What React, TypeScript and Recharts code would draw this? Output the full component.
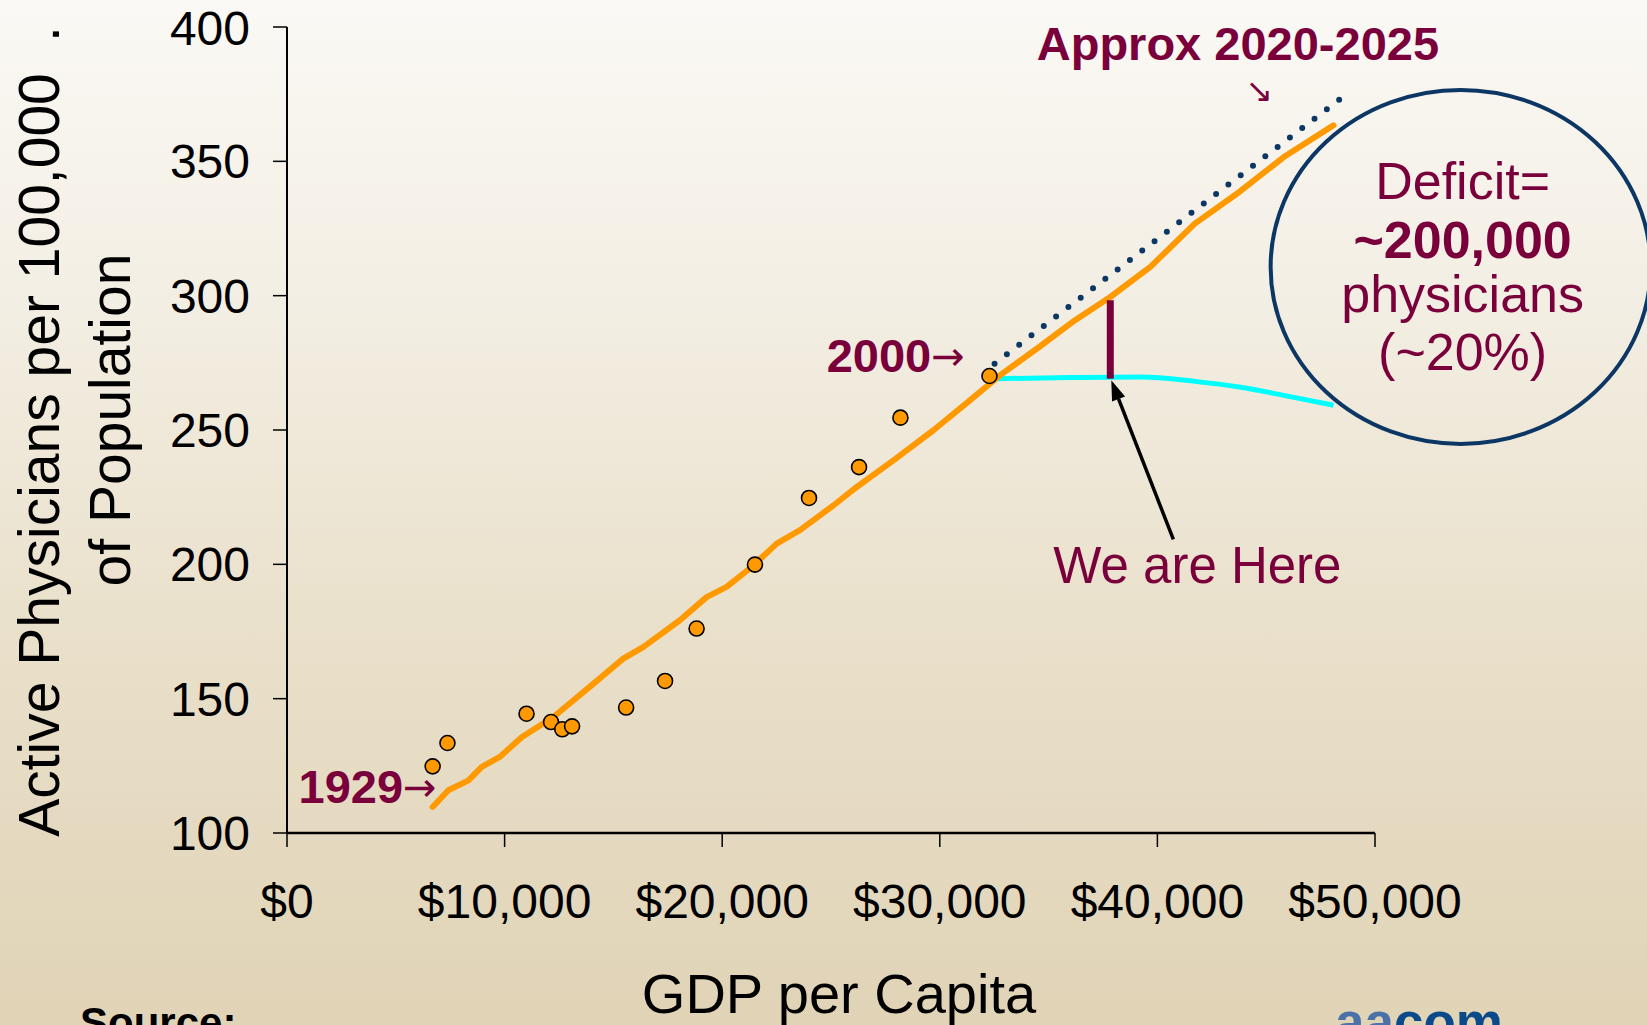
import { ComposedChart, Line, Scatter, XAxis, YAxis, ReferenceLine, ReferenceDot, Label } from 'recharts';

// observed points, 1929 -> 2000
const observedGdp = [6693, 7374, 11008, 12135, 12650, 13101, 15585, 17374, 18823, 21505, 23989, 26289, 28190, 32283];
const observedRate = [124.8, 133.5, 144.4, 141.3, 138.6, 139.7, 146.7, 156.6, 176.1, 199.9, 224.7, 236.2, 254.6, 270.1];

// hand drawn trend (demand)
const trendGdp = [6693, 7415, 8339, 8951, 9775, 10800, 12240, 14089, 15450, 16367, 18055, 19283, 20203, 21352, 22503, 23575, 25107, 26183, 27869, 29707, 31395, 32315, 32775, 34564, 36198, 37835, 39675, 41719, 43764, 45807, 48093];
const trendRate = [109.7, 115.9, 119.6, 124.6, 128.3, 135.7, 143.2, 155.6, 164.9, 169.2, 179.2, 187.8, 191.6, 199.0, 207.7, 212.7, 221.9, 228.8, 238.7, 249.9, 261.1, 267.3, 270.4, 280.9, 290.8, 299.5, 310.7, 326.8, 338.6, 351.6, 363.4];

// dotted projection
const projGdp = [32517, 48415];
const projRate = [274.7, 373.3];

// supply (cyan)
const supplyGdp = [32514, 36000, 39261, 41719, 43764, 45807, 48093];
const supplyRate = [269.1, 269.5, 269.7, 268.1, 266.0, 262.9, 259.2];

const xTicks = [0, 10000, 20000, 30000, 40000, 50000];
const yTicks = [100, 150, 200, 250, 300, 350, 400];

const toPoints = (xs: number[], ys: number[]) => xs.map((x, i) => ({ x, y: ys[i] }));
const observed = toPoints(observedGdp, observedRate);
const trend = toPoints(trendGdp, trendRate);
const projection = toPoints(projGdp, projRate);
const supply = toPoints(supplyGdp, supplyRate);

const FONT = '"Liberation Sans", Arial, Helvetica, sans-serif';
const ARROW_FONT = '"DejaVu Sans", sans-serif';
const MAROON = '#7a003c';
const NAVY = '#0c3764';

const fmtMoney = (v: number) => '$' + v.toLocaleString('en-US');

const Marker = (p: any) => (
  <circle cx={p.cx} cy={p.cy} r={7.5} fill="#ff9900" stroke="#000" strokeWidth={1.6} />
);

const ArrowShape = (p: any) => {
  const { x1, y1, x2, y2 } = p;
  const a = Math.atan2(y2 - y1, x2 - x1);
  const len = 20;
  const half = 7;
  const bx = x2 - len * Math.cos(a);
  const by = y2 - len * Math.sin(a);
  const nx = -Math.sin(a) * half;
  const ny = Math.cos(a) * half;
  return (
    <g>
      <line x1={x1} y1={y1} x2={bx} y2={by} stroke="#000" strokeWidth={3.5} />
      <polygon points={`${x2},${y2} ${bx + nx},${by + ny} ${bx - nx},${by - ny}`} fill="#000" />
    </g>
  );
};

const textAt = (label: string, opts: any) => (p: any) => (
  <text x={p.cx} y={p.cy} fontFamily={opts.family || FONT} fontSize={opts.size} fontWeight={opts.weight || 'normal'}
    fill={opts.fill || MAROON} textAnchor={opts.anchor || 'start'} dominantBaseline={opts.baseline || 'auto'}>
    {label}
    {opts.arrow ? <tspan fontFamily={ARROW_FONT} fontWeight="normal" fontSize={40} dy={-2}>→</tspan> : null}
  </text>
);

const DeficitBubble = (p: any) => {
  const { cx, cy } = p;
  const t = { fontFamily: FONT, fontSize: 52, fill: MAROON, textAnchor: 'middle' as const };
  return (
    <g>
      <ellipse cx={cx} cy={cy} rx={190} ry={177} fill="none" stroke={NAVY} strokeWidth={4} />
      <text x={cx + 2} y={cy - 68} {...t}>Deficit=</text>
      <text x={cx + 2} y={cy - 9} {...t} fontWeight="bold">~200,000</text>
      <text x={cx + 2} y={cy + 45} {...t}>physicians</text>
      <text x={cx + 2} y={cy + 103} {...t}>(~20%)</text>
    </g>
  );
};

const YTitle = () => (
  <g fontFamily={FONT} fontSize={57} fill="#000">
    <text x={59} y={455} textAnchor="middle" transform="rotate(-90, 59, 455)">Active Physicians per 100,000</text>
    <text x={59} y={34} textAnchor="middle" transform="rotate(-90, 59, 34)">.</text>
    <text x={130} y={420} textAnchor="middle" transform="rotate(-90, 130, 420)">of Population</text>
  </g>
);

const XTitle = () => (
  <text x={839} y={1013} textAnchor="middle" fontFamily={FONT} fontSize={56} fill="#000">GDP per Capita</text>
);

export default function App() {
  return (
    <div style={{
      position: 'absolute', left: 0, top: 0, width: 1647, height: 1025, overflow: 'hidden',
      background: 'linear-gradient(180deg, #fbf9f5 0%, #f3eee3 30%, #eae1cc 60%, #e0d3b6 100%)',
    }}>
      <ComposedChart width={1647} height={1025} margin={{ top: 27, right: 272, bottom: 0, left: 0 }}>
        <XAxis type="number" dataKey="x" domain={[0, 50000]} ticks={xTicks} tickFormatter={fmtMoney}
          height={192} tickSize={14} tickMargin={37} allowDataOverflow
          axisLine={{ stroke: '#000', strokeWidth: 2.5 }} tickLine={{ stroke: '#000', strokeWidth: 1.5 }}
          tick={{ fill: '#000', fontSize: 48, fontFamily: FONT }}>
          <Label content={XTitle} />
        </XAxis>
        <YAxis type="number" dataKey="y" domain={[100, 400]} ticks={yTicks} width={287}
          tickSize={14} tickMargin={23} allowDataOverflow
          axisLine={{ stroke: '#000', strokeWidth: 2 }} tickLine={{ stroke: '#000', strokeWidth: 1.5 }}
          tick={{ fill: '#000', fontSize: 48, fontFamily: FONT }}>
          <Label content={YTitle} />
        </YAxis>

        <Scatter data={observed} dataKey="y" shape={Marker} isAnimationActive={false} />
        <Line data={projection} dataKey="y" type="linear" stroke={NAVY} strokeWidth={6}
          strokeDasharray="0 15.5" strokeLinecap="round" dot={false} isAnimationActive={false} />
        <Line data={supply} dataKey="y" type="monotone" stroke="#00ffff" strokeWidth={5}
          dot={false} isAnimationActive={false} />
        <Line data={trend} dataKey="y" type="linear" stroke="#ff9900" strokeWidth={6}
          strokeLinejoin="round" strokeLinecap="round" dot={false} isAnimationActive={false} />

        <ReferenceLine segment={[{ x: 37835, y: 269.1 }, { x: 37835, y: 298.3 }]} stroke={MAROON} strokeWidth={7} />
        <ReferenceLine segment={[{ x: 40733, y: 209.3 }, { x: 37881, y: 268.5 }]} shape={ArrowShape} />

        <ReferenceDot x={529} y={111} r={0} shape={textAt('1929', { size: 47, weight: 'bold', arrow: true })} />
        <ReferenceDot x={24803} y={271.6} r={0} shape={textAt('2000', { size: 47, weight: 'bold', arrow: true })} />
        <ReferenceDot x={43700} y={387.6} r={0} shape={textAt('Approx 2020-2025', { size: 47, weight: 'bold', anchor: 'middle' })} />
        <ReferenceDot x={44689} y={376.3} r={0}
          shape={textAt('↘', { size: 33, anchor: 'middle', baseline: 'central', family: ARROW_FONT })} />
        <ReferenceDot x={41837} y={192.9} r={0} shape={textAt('We are Here', { size: 51, anchor: 'middle' })} />
        <ReferenceDot x={53935} y={310.7} r={0} ifOverflow="visible" shape={DeficitBubble} />
      </ComposedChart>

      <svg width={1647} height={1025} style={{ position: 'absolute', left: 0, top: 0, pointerEvents: 'none' }}>
        <text x={80} y={1037} fontFamily={FONT} fontSize={42} fontWeight="bold" fill="#000">Source:</text>
        <text x={1335} y={1040} fontFamily={FONT} fontSize={53} fontWeight="bold">
          <tspan fill="#4a72a8">aa</tspan><tspan fill="#0a4a8a">com</tspan>
        </text>
      </svg>
    </div>
  );
}
